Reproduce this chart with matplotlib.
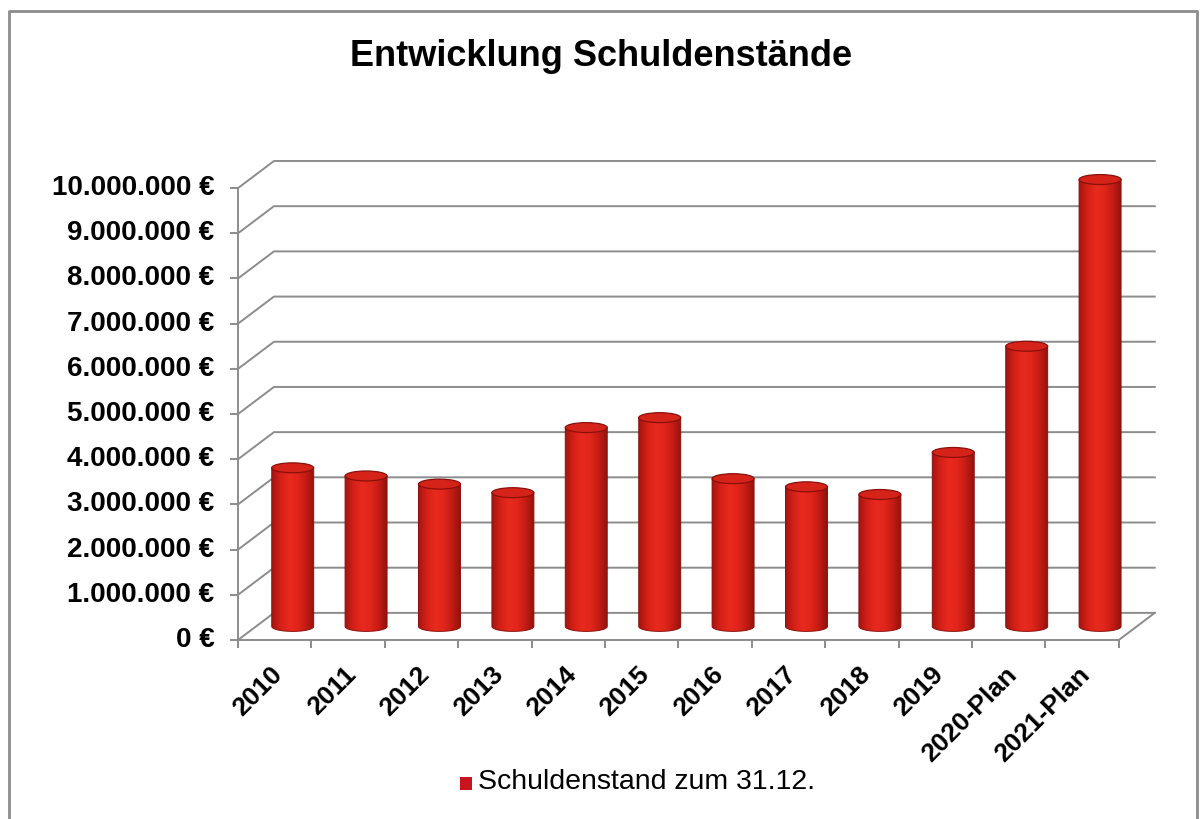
import matplotlib
matplotlib.use("Agg")
import matplotlib.pyplot as plt
import numpy as np
from matplotlib.colors import LinearSegmentedColormap
from matplotlib.lines import Line2D
from matplotlib.patches import Ellipse, PathPatch, Rectangle
from matplotlib.path import Path

plt.rcParams["font.family"] = ["Liberation Sans", "DejaVu Sans"]

# Daten
categories = ["2010", "2011", "2012", "2013", "2014", "2015", "2016",
              "2017", "2018", "2019", "2020-Plan", "2021-Plan"]
schuldenstand = [3510000, 3330000, 3150000, 2960000, 4400000, 4620000,
                 3270000, 3090000, 2920000, 3850000, 6200000, 9890000]
y_ticks = list(range(0, 10_000_001, 1_000_000))
title = "Entwicklung Schuldenstände"
legend_label = "Schuldenstand zum 31.12."

# Pseudo-3D: Tiefe der Rückwand
DX, DY = 0.49, 600000
HW = 0.286          # halbe Zylinderbreite (Kategorien)
EH = 110000         # halbe Ellipsenhöhe (Euro)
GRID = "#8c8c8c"
cyl_cmap = LinearSegmentedColormap.from_list(
    "cyl", ["#a3150f", "#d42018", "#e8291e", "#e2261b", "#c51c14", "#93130d"])


def euro(v):
    return f"{v:,.0f} €".replace(",", ".")


fig = plt.figure(figsize=(12.03, 8.19), dpi=100)
W, H = 1203, 819
ax = fig.add_axes([238 / W, 179 / H, 920 / W, 479 / H])
ax.axis("off")
n = len(categories)
right = n - 0.5

# Gitterlinien an Seitenwand und Rückwand
for v in y_ticks:
    ax.plot([-0.5, -0.5 + DX, right + DX], [v, v + DY, v + DY],
            color=GRID, lw=1.4, clip_on=False, zorder=1)
ax.plot([-0.5, right, right + DX], [0, 0, DY], color=GRID, lw=1.4, clip_on=False, zorder=1)
ax.plot([-0.5, -0.5], [0, y_ticks[-1]], color=GRID, lw=1.4, clip_on=False, zorder=1)
ax.plot([-0.5] * len(y_ticks), y_ticks, ls="none", marker=0, ms=6, mew=1.4,
        color=GRID, clip_on=False)
ax.plot(np.arange(n + 1) - 0.5, [0] * (n + 1), ls="none", marker=3, ms=6, mew=1.4,
        color=GRID, clip_on=False)

# Zylinder
base = DY / 2
t = np.linspace(np.pi, 2 * np.pi, 40)
grad = np.linspace(0, 1, 256).reshape(1, -1)
for i, v in enumerate(schuldenstand):
    cx = i + DX / 2
    verts = [(cx - HW, base + v), (cx - HW, base)]
    verts += list(zip(cx + HW * np.cos(t), base + EH * np.sin(t)))
    verts += [(cx + HW, base), (cx + HW, base + v), (cx - HW, base + v)]
    body = PathPatch(Path(verts, closed=True), fc="none", ec="#8a0f0a", lw=0.7, zorder=4)
    ax.add_patch(body)
    im = ax.imshow(grad, extent=[cx - HW, cx + HW, base - EH, base + v], cmap=cyl_cmap,
                   aspect="auto", interpolation="bicubic", zorder=3)
    im.set_clip_path(body)
    ax.add_patch(Ellipse((cx, base + v), 2 * HW, 2 * EH, fc="#d5231a",
                         ec="#8a100b", lw=0.9, zorder=5))

ax.set_xlim(-0.5, -0.5 + 920 / 73.4)
ax.set_ylim(0, 10.6e6)

# Achsenbeschriftungen
for v in y_ticks:
    ax.annotate(euro(v), xy=(-0.5, v), xytext=(-17, 0), textcoords="offset points",
                ha="right", va="center", fontsize=20, fontweight="bold")
for i, lab in enumerate(categories):
    ax.annotate(lab, xy=(i, 0), xytext=(-3, -16), textcoords="offset points",
                rotation=45, rotation_mode="anchor", ha="right", va="top",
                fontsize=19, fontweight="bold")

fig.text(0.5, 1 - 57 / H, title, ha="center", va="center", fontsize=26, fontweight="bold")

# Legende
fig.add_artist(Rectangle((460 / W, 1 - 790 / H), 12 / W, 13 / H,
                         transform=fig.transFigure, fc="#c8141c", ec="none"))
fig.text(478 / W, 1 - 782 / H, legend_label, ha="left", va="center", fontsize=20.5)

# Rahmen
fig.add_artist(Line2D([9 / W, 9 / W, 1197 / W, 1197 / W], [0, 1 - 11 / H, 1 - 11 / H, 0],
                      transform=fig.transFigure, color="#8c8c8c", lw=2))

fig.savefig("out.png", dpi=100)
